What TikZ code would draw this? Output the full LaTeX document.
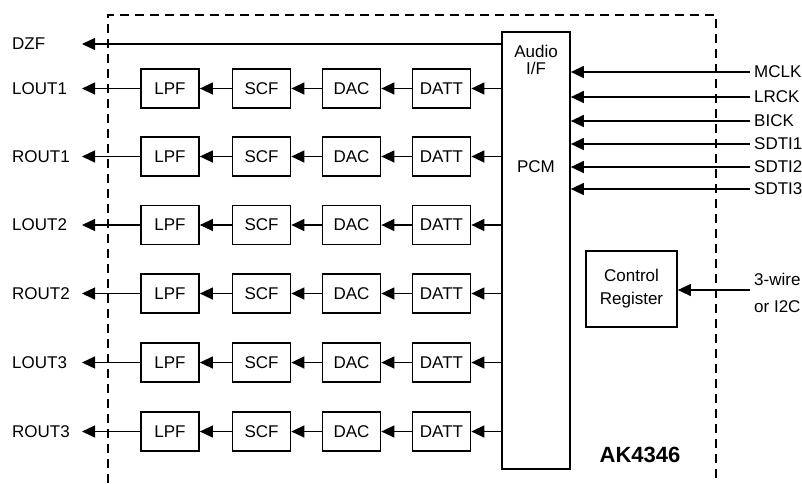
\documentclass[tikz,border=0pt]{standalone}
\usepackage{fontspec}
\setmainfont{Liberation Sans}
\usetikzlibrary{arrows.meta}
\begin{document}
\begin{tikzpicture}[x=1pt,y=-1pt,
  txt/.style={font=\fontsize{17}{20}\selectfont},
  blk/.style={draw,line width=1.7pt,minimum width=58pt,minimum height=39pt,inner sep=0pt,txt},
  sig/.style={line width=1.3pt,-{Triangle[length=13pt,width=12pt]}},
  lbl/.style={inner sep=0pt,anchor=west,txt},
  chip/.style={line width=1.5pt,dash pattern=on 9pt off 6pt}]
\useasboundingbox (0,0) rectangle (802,483);
% chip boundary
\draw[chip] (108,483) -- (108,15) -- (716,15) -- (716,483);
% audio interface
\node[draw,line width=1.7pt,minimum width=68pt,minimum height=437pt,inner sep=0pt] (audio) at (536,250.5) {};
\node[txt,inner sep=0pt] (audiot) at (536,51) {Audio};
\node[txt,inner sep=0pt] (ift) at (536,68) {I/F};
\node[txt,inner sep=0pt] (pcm) at (536,167) {PCM};
% DZF
\coordinate (dzfo) at (82,44);
\node[lbl] (dzf) at (12,44) {DZF};
\draw[sig] (audio.west |- dzfo) -- (dzfo);
% channels
\foreach \nm/\y/\i in {LOUT1/88.5/1,ROUT1/156.5/2,LOUT2/225/3,ROUT2/293.5/4,LOUT3/362.5/5,ROUT3/431.5/6}{
  \node[blk] (lpf\i) at (170,\y) {LPF};
  \node[blk] (scf\i) at (261.5,\y) {SCF};
  \node[blk] (dac\i) at (351.5,\y) {DAC};
  \node[blk] (datt\i) at (441.5,\y) {DATT};
  \coordinate (o\i) at (82,\y);
  \node[lbl] (out\i) at (12,\y) {\nm};
  \draw[sig] (lpf\i.west) -- (o\i);
  \draw[sig] (scf\i.west) -- (lpf\i.east);
  \draw[sig] (dac\i.west) -- (scf\i.east);
  \draw[sig] (datt\i.west) -- (dac\i.east);
  \draw[sig] (audio.west |- datt\i.east) -- (datt\i.east);
}
% inputs
\foreach \nm/\y/\j in {MCLK/72/1,LRCK/97/2,BICK/121/3,SDTI1/144/4,SDTI2/167/5,SDTI3/189/6}{
  \coordinate (in\j) at (750,\y);
  \node[lbl] (inl\j) at (754,\y) {\nm};
  \draw[sig] (in\j) -- (audio.east |- in\j);
}
% control register
\node[draw,line width=1.7pt,minimum width=91pt,minimum height=76pt,inner sep=0pt,align=center,font=\fontsize{17}{23}\selectfont] (ctrl) at (631.5,289) {Control\\Register};
\coordinate (cin) at (750,290);
\node[lbl] (w3) at (754,279) {3-wire};
\node[lbl] (i2c) at (754,307) {or I2C};
\draw[sig] (cin) -- (ctrl.east |- cin);
% chip name
\node[inner sep=0pt,font=\fontsize{22}{24}\selectfont\bfseries] (name) at (640,455) {AK4346};
\end{tikzpicture}
\end{document}
